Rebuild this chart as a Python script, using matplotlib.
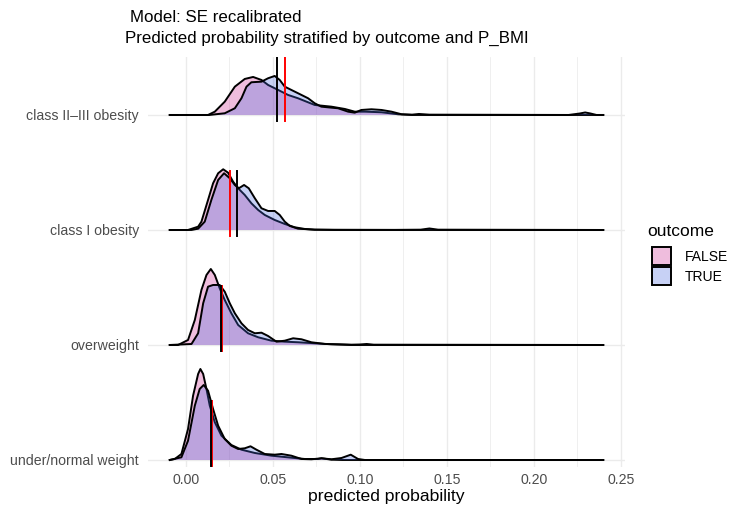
import matplotlib
matplotlib.use("Agg")
import matplotlib.pyplot as plt
from matplotlib.patches import Patch

plt.rcParams['font.family'] = ['Liberation Sans', 'DejaVu Sans']

# ---------------- data ----------------
categories = ["under/normal weight", "overweight", "class I obesity", "class II\u2013III obesity"]

# density heights (arbitrary units) for each stratum
# class II-III obesity
x_c2_false = [-0.0092, 0.0128, 0.0167, 0.0224, 0.0282, 0.0339, 0.0387, 0.0435, 0.0473, 0.0531, 0.0588,
              0.0645, 0.0741, 0.0837, 0.0914, 0.0971, 0.1029, 0.1125, 0.122, 0.13, 0.2399]
h_c2_false = [0, 0, 3.3, 13.3, 28.3, 36, 38, 35, 30, 25, 20, 16.7, 10, 8.3, 6, 3.3, 3.3, 2.7, 0.7, 0, 0]
x_c2_true = [-0.0092, 0.0136, 0.0224, 0.0282, 0.032, 0.0349, 0.0377, 0.0435, 0.0473, 0.0511, 0.054,
             0.0569, 0.0607, 0.0665, 0.0703, 0.0741, 0.0779, 0.0837, 0.0875, 0.0933, 0.0971, 0.1009,
             0.1067, 0.1125, 0.1182, 0.124, 0.13, 0.134, 0.14, 0.22, 0.2265, 0.2295, 0.2325, 0.236, 0.2399]
h_c2_true = [0, 0, 1.7, 6.7, 16.7, 28.3, 32.7, 33.3, 36.7, 39, 35, 28.3, 25, 20, 16.7, 11.7, 8.3, 7.3,
             6.7, 3.3, 2.3, 5, 5.7, 5, 3.3, 0.7, 0.3, 1, 0.3, 0, 1.5, 2.5, 1.5, 0, 0]

# class I obesity
x_c1_false = [-0.0092, 0.0013, 0.0071, 0.009, 0.0128, 0.0157, 0.0186, 0.0215, 0.0243, 0.0272, 0.0301,
              0.0339, 0.0377, 0.0416, 0.0454, 0.0511, 0.0569, 0.0626, 0.0684, 0.0741, 0.085, 0.2399]
h_c1_false = [0, 0, 3.3, 8.3, 30, 46.7, 56.7, 60.7, 57.3, 48.3, 41.7, 35, 26.7, 20, 15, 10, 6, 2.7, 1,
              0.3, 0, 0]
x_c1_true = [-0.0092, 0.0033, 0.0071, 0.0109, 0.0147, 0.0186, 0.022, 0.0253, 0.0282, 0.0305, 0.0335,
             0.0362, 0.0397, 0.0435, 0.0473, 0.0511, 0.054, 0.0569, 0.0598, 0.0645, 0.0741, 0.09, 0.12,
             0.135, 0.14, 0.145, 0.2399]
h_c1_true = [0, 0, 1.3, 8.3, 30, 50, 56.7, 51.7, 45, 41.7, 45, 41.7, 31.7, 21.7, 19, 19, 15, 8.3, 4,
             1.3, 0.3, 0.2, 0.1, 0.3, 1.5, 0.3, 0]

# overweight
x_ow_false = [-0.0092, -0.0044, 0.0013, 0.0052, 0.009, 0.0119, 0.0144, 0.0167, 0.0195, 0.0224, 0.0262,
              0.0301, 0.0358, 0.0416, 0.0492, 0.0569, 0.0646, 0.0741, 0.0837, 0.095, 0.2399]
h_ow_false = [0, 0, 5, 25, 55, 70, 76, 70, 56.7, 45, 31.7, 20, 11.7, 7.7, 4.3, 3.3, 2.7, 1.7, 0.7, 0, 0]
x_ow_true = [-0.0092, 0.0033, 0.0071, 0.01, 0.0128, 0.0157, 0.0195, 0.0224, 0.0253, 0.0282, 0.032,
             0.0358, 0.0397, 0.0435, 0.0473, 0.0521, 0.0569, 0.0617, 0.0665, 0.0722, 0.0799, 0.0875,
             0.0952, 0.1, 0.104, 0.108, 0.2399]
h_ow_true = [0, 1, 11.7, 41.7, 58.3, 60, 60, 53.3, 41.7, 31.7, 21.7, 15, 11.7, 12.3, 9, 3.3, 4.3, 6.7,
             5.7, 2.7, 1, 0.7, 0.3, 0.5, 1, 0.3, 0]

# under/normal weight
x_nw_false = [-0.0092, -0.0063, -0.0025, 0.0013, 0.0042, 0.0071, 0.0084, 0.01, 0.0119, 0.0138, 0.0167,
              0.0205, 0.0262, 0.032, 0.0397, 0.0492, 0.0607, 0.0684, 0.076, 0.078, 0.0837, 0.09, 0.2399]
h_nw_false = [0, 1, 6, 31, 64.3, 86, 91, 86, 71, 54.3, 37.7, 24.3, 15, 10.3, 7, 4.3, 2.3, 1, 1, 1.7,
              0.3, 0, 0]
x_nw_true = [-0.0092, -0.0025, 0.0013, 0.0052, 0.008, 0.0103, 0.0128, 0.0157, 0.0186, 0.0224, 0.0262,
             0.0301, 0.0339, 0.0372, 0.0406, 0.0454, 0.0511, 0.055, 0.0607, 0.0665, 0.0722, 0.078,
             0.0837, 0.0895, 0.0948, 0.099, 0.1029, 0.2399]
h_nw_true = [0, 2.7, 19.3, 54.3, 71, 75, 69.3, 51, 34.3, 21, 14.3, 11, 11.7, 13.7, 10.3, 6, 5.3, 6,
             4.3, 1, 0.7, 1.7, 0.7, 2, 5.3, 1, 0, 0]

# vertical markers per category (bottom -> top)
mean_predicted = [0.0144, 0.0201, 0.0295, 0.0523]   # black
observed_rate = [0.0148, 0.0207, 0.0257, 0.0569]    # red

outcome_labels = ["FALSE", "TRUE"]
xticks = [0.00, 0.05, 0.10, 0.15, 0.20, 0.25]
xtick_labels = ["0.00", "0.05", "0.10", "0.15", "0.20", "0.25"]

# ---------------- styling ----------------
col_false = (205/255, 38/255, 145/255, 0.3)
col_true = (72/255, 105/255, 222/255, 0.3)
height_scale = 1 / 115.0
grid_col = "#EBEBEB"

W, H = 734, 512
fig = plt.figure(figsize=(W/100, H/100), dpi=100)
ax = fig.add_axes([148/W, 1 - 467/H, (625-148)/W, (467-57)/H])

ax.set_xlim(-0.0217, 0.2524)
ax.set_ylim(0.939, 4.504)

for xv in [0.025, 0.075, 0.125, 0.175, 0.225]:
    ax.axvline(xv, color=grid_col, lw=0.55, zorder=0)
for xv in xticks:
    ax.axvline(xv, color=grid_col, lw=1.0, zorder=0)
for i in range(len(categories)):
    ax.axhline(i + 1, color=grid_col, lw=1.0, zorder=0)

curves = [
    (x_nw_false, h_nw_false, x_nw_true, h_nw_true),
    (x_ow_false, h_ow_false, x_ow_true, h_ow_true),
    (x_c1_false, h_c1_false, x_c1_true, h_c1_true),
    (x_c2_false, h_c2_false, x_c2_true, h_c2_true),
]

z = 2
for i in reversed(range(len(curves))):
    base = i + 1
    xf, hf, xt, ht = curves[i]
    for xs, hs, col in [(xf, hf, col_false), (xt, ht, col_true)]:
        ys = [base + h * height_scale for h in hs]
        ax.fill_between(xs, base, ys, facecolor=col, edgecolor='none', zorder=z)
        ax.plot(xs, ys, color='black', lw=1.4, zorder=z + 0.5, solid_joinstyle='round')
        z += 1

for i in range(len(categories)):
    base = i + 1
    ax.plot([observed_rate[i]] * 2, [base - 0.05, base + 0.51], color='red', lw=1.4, zorder=50)
    ax.plot([mean_predicted[i]] * 2, [base - 0.05, base + 0.51], color='black', lw=1.4, zorder=51)

ax.set_xticks(xticks)
ax.set_xticklabels(xtick_labels)
ax.set_yticks(range(1, len(categories) + 1))
ax.set_yticklabels(categories)
ax.tick_params(length=0, labelsize=10.2, labelcolor='#4D4D4D')
ax.tick_params(axis='y', pad=6.5)
ax.tick_params(axis='x', pad=4)
for s in ax.spines.values():
    s.set_visible(False)
ax.set_xlabel("predicted probability", fontsize=12.6, labelpad=2)

fig.text(130/W, 1 - 22.5/H, "Model: SE recalibrated", fontsize=12.2, va='baseline', ha='left')
fig.text(125/W, 1 - 42.5/H, "Predicted probability stratified by outcome and P_BMI", fontsize=12.2,
         va='baseline', ha='left')

fig.text(647/W, 1 - 231/H, "outcome", fontsize=12.5, va='center', ha='left')
handles = [Patch(facecolor=col_false, edgecolor='black', lw=1.4),
           Patch(facecolor=col_true, edgecolor='black', lw=1.4)]
leg = fig.legend(handles, outcome_labels, loc='upper left',
                 bbox_to_anchor=(652/W, 1 - 247/H), frameon=False, fontsize=10,
                 handlelength=1.37, handleheight=1.62, labelspacing=0.15,
                 handletextpad=1.0, borderpad=0, borderaxespad=0)

fig.savefig("out.png", dpi=100)
